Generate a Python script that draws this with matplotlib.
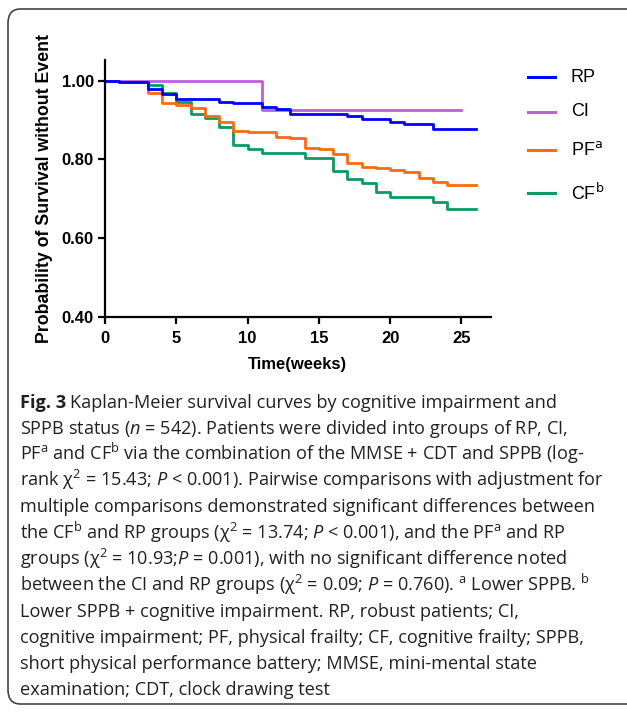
import matplotlib
matplotlib.use("Agg")
import matplotlib.pyplot as plt
from matplotlib.lines import Line2D
from matplotlib.patches import FancyBboxPatch


# =========================
# Datos
# =========================
RP_T = [0, 1, 3, 4, 5, 8, 9, 11, 12, 13, 17, 18, 20, 21, 23, 26]
RP_S = [1.000, 0.996, 0.978, 0.965, 0.953, 0.947, 0.942, 0.933, 0.927,
        0.916, 0.909, 0.903, 0.895, 0.889, 0.878, 0.878]

CI_T = [0, 11, 25]
CI_S = [1.000, 0.925, 0.925]

PF_T = [0, 1, 3, 4, 5, 6, 7, 8, 9, 10, 12, 13, 14, 15, 16, 17, 18, 19,
        20, 21, 22, 23, 24, 26]
PF_S = [1.000, 0.996, 0.968, 0.943, 0.938, 0.930, 0.910, 0.896, 0.873,
        0.869, 0.858, 0.854, 0.830, 0.826, 0.814, 0.790, 0.781, 0.777,
        0.773, 0.769, 0.753, 0.743, 0.735, 0.735]

CF_T = [0, 1, 3, 4, 5, 6, 7, 8, 9, 10, 11, 14, 16, 17, 18, 19, 20, 23, 24, 26]
CF_S = [1.000, 0.996, 0.990, 0.968, 0.945, 0.915, 0.904, 0.882, 0.837,
        0.826, 0.815, 0.804, 0.771, 0.749, 0.739, 0.717, 0.705, 0.691,
        0.674, 0.674]

X_TICKS = [0, 5, 10, 15, 20, 25]
Y_TICKS = [0.40, 0.60, 0.80, 1.00]

LEGEND_LABELS = ["RP", "CI", r"PF$^{\mathrm{a}}$", r"CF$^{\mathrm{b}}$"]

CAPTION_HEAD = "Fig. 3"
CAPTION = [
    r"Kaplan-Meier survival curves by cognitive impairment and",
    r"SPPB status ($n$ = 542). Patients were divided into groups of RP, CI,",
    r"PF$^{\mathrm{a}}$ and CF$^{\mathrm{b}}$ via the combination of the MMSE + CDT and SPPB (log-",
    r"rank $\mathrm{χ}^{2}$ = 15.43; $P$ < 0.001). Pairwise comparisons with adjustment for",
    r"multiple comparisons demonstrated significant differences between",
    r"the CF$^{\mathrm{b}}$ and RP groups ($\mathrm{χ}^{2}$ = 13.74; $P$ < 0.001), and the PF$^{\mathrm{a}}$ and RP",
    r"groups ($\mathrm{χ}^{2}$ = 10.93;$P$ = 0.001), with no significant difference noted",
    r"between the CI and RP groups ($\mathrm{χ}^{2}$ = 0.09; $P$ = 0.760). $^{\mathrm{a}}$ Lower SPPB. $^{\mathrm{b}}$",
    r"Lower SPPB + cognitive impairment. RP, robust patients; CI,",
    r"cognitive impairment; PF, physical frailty; CF, cognitive frailty; SPPB,",
    r"short physical performance battery; MMSE, mini-mental state",
    r"examination; CDT, clock drawing test",
]

# =========================
# Estilo
# =========================
W, H = 627, 713
COL_RP = "#0000FF"
COL_CI = "#BF5FDF"
COL_PF = "#FF6A10"
COL_CF = "#0C9A62"
CAP_SIZE = 13.1

plt.rcParams["mathtext.fontset"] = "custom"
plt.rcParams["mathtext.rm"] = "Open Sans"
plt.rcParams["mathtext.it"] = "Open Sans:italic"
plt.rcParams["mathtext.bf"] = "Open Sans:bold"

fig = plt.figure(figsize=(W / 100, H / 100), dpi=100)

# marco redondeado
frame = FancyBboxPatch((8 / W, 9 / H), 650 / W, (704 - 9) / H,
                       boxstyle="round,pad=0,rounding_size=0.02",
                       transform=fig.transFigure, fill=False,
                       edgecolor="#444444", linewidth=1.2)
fig.add_artist(frame)

ax = fig.add_axes([105 / W, 1 - 316.7 / H, (490.7 - 105) / W, (316.7 - 60) / H])

ax.step(CF_T, CF_S, where="post", color=COL_CF, lw=2.0)
ax.step(PF_T, PF_S, where="post", color=COL_PF, lw=2.0)
ax.step(CI_T, CI_S, where="post", color=COL_CI, lw=2.0)
ax.step(RP_T, RP_S, where="post", color=COL_RP, lw=2.0)

ax.set_xlim(0, 27.05)
ax.set_ylim(0.40, 1.0525)
ax.set_xticks(X_TICKS)
ax.set_yticks(Y_TICKS)
ax.set_xticklabels([str(t) for t in X_TICKS])
ax.set_yticklabels([f"{v:.2f}" for v in Y_TICKS])

for side in ["top", "right"]:
    ax.spines[side].set_visible(False)
for side in ["left", "bottom"]:
    ax.spines[side].set_linewidth(1.6)

ax.tick_params(direction="out", length=5, width=1.6)
ax.tick_params(axis="x", pad=5)
ax.tick_params(axis="y", pad=3)
for lab in ax.get_xticklabels() + ax.get_yticklabels():
    lab.set_fontfamily("Liberation Sans")
    lab.set_fontweight("bold")
    lab.set_fontsize(12)

ax.set_xlabel("Time(weeks)", fontfamily="Liberation Sans", fontweight="bold",
              fontsize=12, labelpad=8)
ax.set_ylabel("Probability of Survival without Event", fontfamily="Liberation Sans",
              fontweight="bold", fontsize=12.8, labelpad=6)

# leyenda manual
legend_rows = [(77, COL_RP), (112, COL_CI), (150, COL_PF), (193, COL_CF)]
for (y, col), label in zip(legend_rows, LEGEND_LABELS):
    fig.add_artist(Line2D([528 / W, 555 / W], [1 - y / H, 1 - y / H],
                          transform=fig.transFigure, color=col, lw=2.2))
    fig.text(571 / W, 1 - y / H, label, fontfamily="Liberation Sans",
             fontsize=13, va="center", ha="left", math_fontfamily="dejavusans")

# pie de figura
y0 = 408
step = 26.1
head = fig.text(20 / W, 1 - y0 / H, CAPTION_HEAD, fontfamily="Open Sans",
                fontweight="bold", fontsize=CAP_SIZE, color="#231F20",
                va="baseline", ha="left")
fig.canvas.draw()
head_x1 = head.get_window_extent().x1 + 4

for i, line in enumerate(CAPTION):
    x = head_x1 / W if i == 0 else 20 / W
    fig.text(x, 1 - (y0 + i * step) / H, line, fontfamily="Open Sans",
             fontsize=CAP_SIZE, color="#231F20", va="baseline", ha="left")

fig.savefig("out.png", dpi=100)
